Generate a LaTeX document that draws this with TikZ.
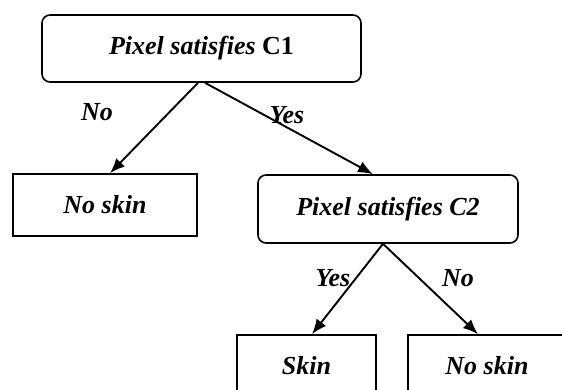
\documentclass[tikz,border=0pt]{standalone}
\usepackage{fontspec}
\setmainfont{Liberation Serif}
\usetikzlibrary{arrows.meta}

\begin{document}
\begin{tikzpicture}[
		x=1pt, y=-1pt,
		test/.style={draw, line width=1.6pt, rounded corners=8pt, minimum width=#1, minimum height=67pt, inner sep=0pt, font=\fontsize{26}{30}\selectfont\bfseries\itshape},
		leaf/.style={draw, line width=1.6pt, minimum width=#1, minimum height=62pt, inner sep=0pt, font=\fontsize{26}{30}\selectfont\bfseries\itshape},
		branch/.style={line width=1.9pt, -{Latex[length=15pt, width=12pt]}},
		answer/.style={font=\fontsize{26}{30}\selectfont\bfseries\itshape}
		]
		
		% page frame, the lower boxes run off its bottom edge
		\useasboundingbox (0,0) rectangle (562,390);
		\clip (0,0) rectangle (562,390);
		
		% first test
		\node[test=319pt] (c1) at (201.5, 48.5) {Pixel satisfies \textup{C1}};
		
		% outcomes of the first test
		\node[leaf=184pt] (noskinA) at (105, 205) {No skin};
		\node[test=260pt, minimum height=68pt] (c2) at (388, 209) {Pixel satisfies C2};
		
		% outcomes of the second test
		\node[leaf=139pt] (skin) at (306.5, 366) {Skin};
		\node[leaf=158pt] (noskinB) at (487, 366) {No skin};
		
		% branches
		\draw[branch] ([xshift=-3.5pt]c1.south) -- ([xshift=5pt]noskinA.north);
		\draw[branch] ([xshift=3.5pt]c1.south) -- ([xshift=-15pt]c2.north);
		\draw[branch] ([xshift=-5pt]c2.south) -- ([xshift=5.5pt]skin.north);
		\draw[branch] ([xshift=-5pt]c2.south) -- ([xshift=-9pt]noskinB.north);
		
		% branch labels
		\node[answer] (noA) at (97, 112) {No};
		\node[answer] (yesA) at (287, 115) {Yes};
		\node[answer] (yesB) at (333, 278) {Yes};
		\node[answer] (noB) at (458, 278) {No};
		
	\end{tikzpicture}
\end{document}
